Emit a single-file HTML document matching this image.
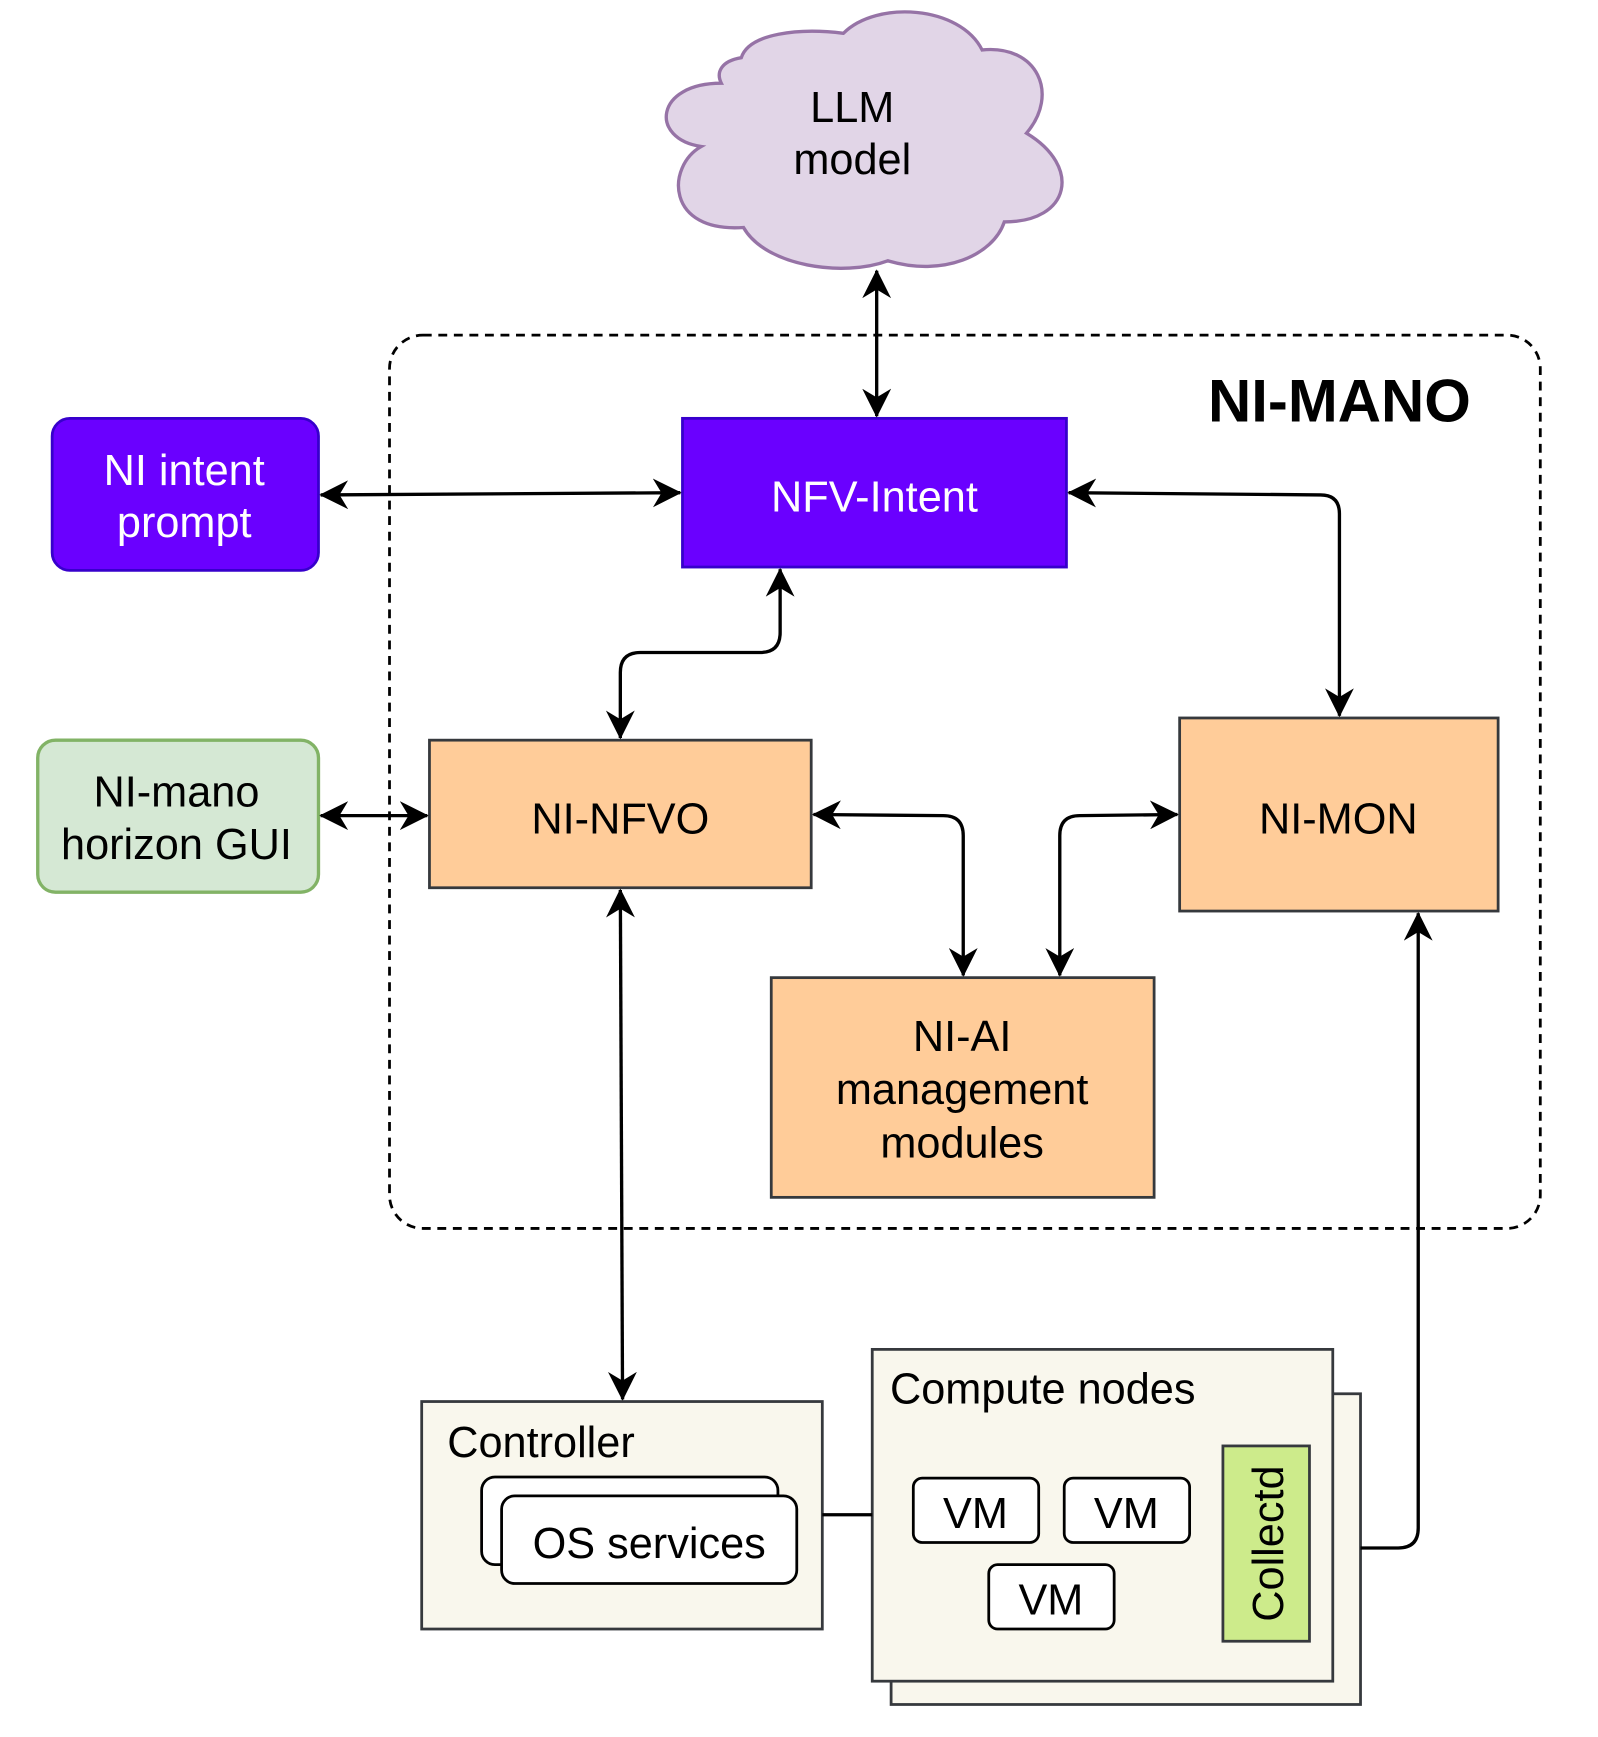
<!DOCTYPE html>
<html><head><meta charset="utf-8"><style>html,body{margin:0;padding:0;background:#fff}svg{display:block}text{font-family:"Liberation Sans",sans-serif}</style></head>
<body>
<svg width="1598" height="1737" viewBox="0 0 1440 1565.3" preserveAspectRatio="none" xmlns="http://www.w3.org/2000/svg">
<defs>
<marker id="a" viewBox="0 0 20 20" refX="19" refY="10" markerWidth="26" markerHeight="26" markerUnits="userSpaceOnUse" orient="auto-start-reverse">
<path d="M0,0 L20,10 L0,20 L6,10 Z" fill="#000"/>
</marker>
</defs>
<path d="M650,75 C590,75 585,125 632,132 C600,150 600,210 670,205 C690,240 760,250 800,235 C850,250 895,230 905,200 C965,200 975,150 925,120 C955,85 935,40 885,45 C865,5 790,0 760,30 C720,25 675,30 668,52 C650,55 645,65 650,75 Z" fill="#e1d5e7" stroke="#9673a6" stroke-width="3"/>
<text x="768" y="110" font-size="39" text-anchor="middle">LLM</text>
<text x="768" y="157" font-size="39" text-anchor="middle">model</text>
<rect x="351" y="302" width="1037" height="805" rx="30" fill="none" stroke="#000" stroke-width="2.5" stroke-dasharray="8,6"/>
<text x="1207" y="380" font-size="54" font-weight="bold" text-anchor="middle">NI-MANO</text>
<rect x="615" y="377" width="346" height="134" fill="#6a00ff" stroke="#3700cc" stroke-width="2.5"/>
<text x="788" y="461" font-size="39" fill="#fff" text-anchor="middle">NFV-Intent</text>
<rect x="47" y="377" width="240" height="137" rx="16" fill="#6a00ff" stroke="#3700cc" stroke-width="2.5"/>
<text x="166" y="437" font-size="39" fill="#fff" text-anchor="middle">NI intent</text>
<text x="166" y="484" font-size="39" fill="#fff" text-anchor="middle">prompt</text>
<rect x="34" y="667" width="253" height="137" rx="16" fill="#d5e8d4" stroke="#82b366" stroke-width="3"/>
<text x="159" y="727" font-size="39" text-anchor="middle">NI-mano</text>
<text x="159" y="774" font-size="39" text-anchor="middle">horizon GUI</text>
<rect x="387" y="667" width="344" height="133" fill="#ffcc99" stroke="#36393d" stroke-width="2.5"/>
<text x="559" y="751" font-size="39" text-anchor="middle">NI-NFVO</text>
<rect x="1063" y="647" width="287" height="174" fill="#ffcc99" stroke="#36393d" stroke-width="2.5"/>
<text x="1206" y="751" font-size="39" text-anchor="middle">NI-MON</text>
<rect x="695" y="881" width="345" height="198" fill="#ffcc99" stroke="#36393d" stroke-width="2.5"/>
<text x="867" y="947" font-size="39" text-anchor="middle">NI-AI</text>
<text x="867" y="995" font-size="39" text-anchor="middle">management</text>
<text x="867" y="1043" font-size="39" text-anchor="middle">modules</text>
<rect x="380" y="1263" width="361" height="205" fill="#f9f7ed" stroke="#36393d" stroke-width="2.5"/>
<text x="403" y="1313" font-size="39">Controller</text>
<rect x="434" y="1331" width="267" height="79" rx="12" fill="#fff" stroke="#000" stroke-width="2.5"/>
<rect x="452" y="1348" width="266" height="79" rx="12" fill="#fff" stroke="#000" stroke-width="2.5"/>
<text x="585" y="1404" font-size="39" text-anchor="middle">OS services</text>
<rect x="803" y="1256" width="423" height="280" fill="#f9f7ed" stroke="#36393d" stroke-width="2.5"/>
<rect x="786" y="1216" width="415" height="299" fill="#f9f7ed" stroke="#36393d" stroke-width="2.5"/>
<text x="802" y="1265" font-size="39">Compute nodes</text>
<rect x="823" y="1332" width="113" height="58" rx="8" fill="#fff" stroke="#000" stroke-width="2.5"/>
<text x="879" y="1377" font-size="39" text-anchor="middle">VM</text>
<rect x="959" y="1332" width="113" height="58" rx="8" fill="#fff" stroke="#000" stroke-width="2.5"/>
<text x="1015" y="1377" font-size="39" text-anchor="middle">VM</text>
<rect x="891" y="1410" width="113" height="58" rx="8" fill="#fff" stroke="#000" stroke-width="2.5"/>
<text x="947" y="1455" font-size="39" text-anchor="middle">VM</text>
<rect x="1102" y="1303" width="78" height="176" fill="#cdeb8b" stroke="#36393d" stroke-width="2.5"/>
<text x="0" y="0" font-size="39" text-anchor="middle" transform="translate(1156,1391) rotate(-90)">Collectd</text>
<g fill="none" stroke="#000" stroke-width="3">
<path d="M790,244 L790,375" marker-start="url(#a)" marker-end="url(#a)"/>
<path d="M289,446 L613,444" marker-start="url(#a)" marker-end="url(#a)"/>
<path d="M963,444 L1190,446 Q1207,446 1207,463 L1207,645" marker-start="url(#a)" marker-end="url(#a)"/>
<path d="M703,513 L703,570 Q703,588 685,588 L577,588 Q559,588 559,606 L559,665" marker-start="url(#a)" marker-end="url(#a)"/>
<path d="M289,735 L385,735" marker-start="url(#a)" marker-end="url(#a)"/>
<path d="M733,734 L850,735 Q868,735 868,753 L868,879" marker-start="url(#a)" marker-end="url(#a)"/>
<path d="M1061,734 L973,735 Q955,735 955,753 L955,879" marker-start="url(#a)" marker-end="url(#a)"/>
<path d="M559,802 L561,1261" marker-start="url(#a)" marker-end="url(#a)"/>
<path d="M1226,1395 L1260,1395 Q1278,1395 1278,1377 L1278,823" marker-end="url(#a)"/>
<path d="M741,1365 L786,1365"/>
</g>
</svg>
</body></html>
